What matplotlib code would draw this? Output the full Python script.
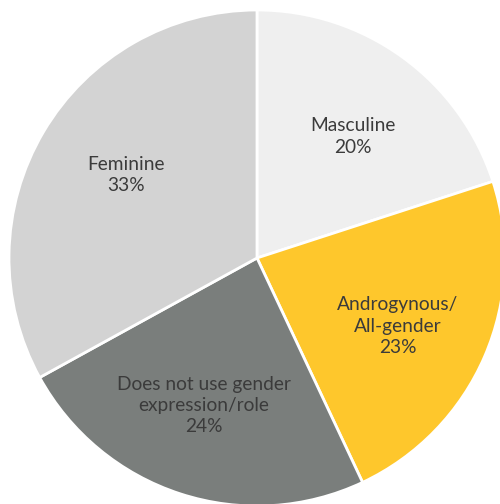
import numpy as np
import matplotlib
matplotlib.use("Agg")
import matplotlib.pyplot as plt

LABELS = ["Masculine", "Androgynous/\nAll-gender",
          "Does not use gender\nexpression/role", "Feminine"]
SHARES = [20, 23, 24, 33]
COLORS = ["#efefef", "#fec72c", "#7a7e7c", "#d3d3d3"]

TEXT_COLOR = "#3b3b3b"
CX, CY, R_PX = 257, 258, 248     # pie centre / radius in pixels
W, H = 500, 504


def main():
    fig = plt.figure(figsize=(W / 100, H / 100), dpi=100)
    ax = fig.add_axes([0, 0, 1, 1])
    ax.axis("off")

    wedges, _ = ax.pie(SHARES, colors=COLORS, startangle=90, counterclock=False,
                       radius=1.0, wedgeprops=dict(edgecolor="white", linewidth=2))

    # labels sit a little clockwise of each wedge's mid-angle
    for w, lab, val in zip(wedges, LABELS, SHARES):
        mid = np.deg2rad((w.theta1 + w.theta2) / 2 - 2)
        ax.text(0.628 * np.cos(mid), 0.628 * np.sin(mid) - 0.005, f"{lab}\n{val}%",
                ha="center", va="center", fontsize=13.8, family="Lato",
                color=TEXT_COLOR, linespacing=1.3)

    ax.set_xlim(-CX / R_PX, (W - CX) / R_PX)
    ax.set_ylim(-(H - CY) / R_PX, CY / R_PX)
    ax.set_aspect("auto")

    fig.savefig("out.png", dpi=100, facecolor="white")


if __name__ == "__main__":
    main()
